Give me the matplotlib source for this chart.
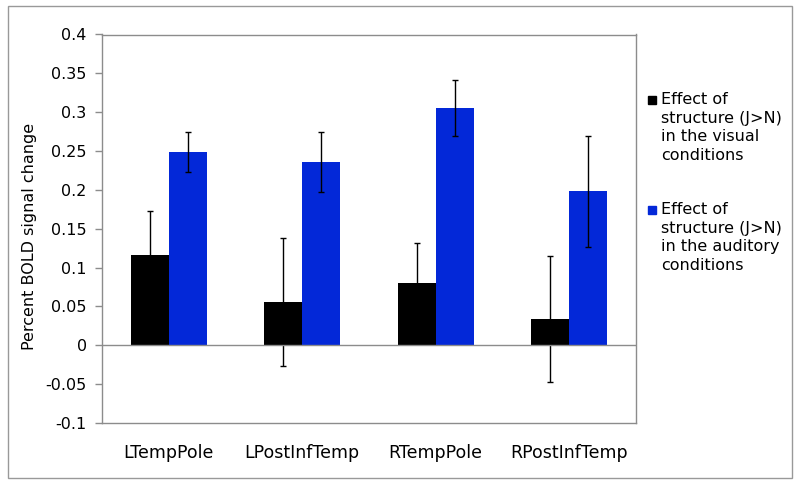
import matplotlib
matplotlib.use("Agg")
import matplotlib.pyplot as plt
import matplotlib.patches as mpatches
import numpy as np

regions = ["LTempPole", "LPostInfTemp", "RTempPole", "RPostInfTemp"]
visual = [0.116, 0.056, 0.080, 0.034]
visual_err = [0.057, 0.082, 0.052, 0.081]
auditory = [0.249, 0.236, 0.306, 0.198]
auditory_err = [0.026, 0.039, 0.036, 0.071]
legend_labels = ["Effect of\nstructure (J>N)\nin the visual\nconditions",
                 "Effect of\nstructure (J>N)\nin the auditory\nconditions"]

black = "#000000"
blue = "#0328D8"
gray = "#8c8c8c"

W, H = 800, 483
fig = plt.figure(figsize=(W / 100, H / 100), dpi=100)
ax = fig.add_axes([102 / W, 1 - 423 / H, (636 - 102) / W, (423 - 34.5) / H])

x = np.arange(len(regions))
bw = 0.284
ekw = dict(ecolor="#000000", elinewidth=1, capsize=2.5, capthick=1)
ax.bar(x - bw / 2, visual, bw, color=black, yerr=visual_err, error_kw=ekw, zorder=2)
ax.bar(x + bw / 2, auditory, bw, color=blue, yerr=auditory_err, error_kw=ekw, zorder=2)
ax.axhline(0, color=gray, lw=1, zorder=3)

ax.set_xlim(-0.5, len(regions) - 0.5)
ax.set_ylim(-0.1, 0.4)
ax.set_yticks(np.arange(-0.1, 0.401, 0.05))
ax.set_yticklabels(["-0.1", "-0.05", "0", "0.05", "0.1", "0.15", "0.2",
                    "0.25", "0.3", "0.35", "0.4"], fontsize=11.5)
ax.set_xticks(x)
ax.set_xticklabels(regions, fontsize=12.5)
ax.tick_params(axis="x", length=0, pad=15)
ax.tick_params(axis="y", length=5, color=gray, width=1, pad=6)
for s in ax.spines.values():
    s.set_color(gray)
    s.set_linewidth(1)
ax.set_ylabel("Percent BOLD signal change", fontsize=11.5)
ax.yaxis.set_label_coords(-0.122, 0.48)

# legend drawn by hand, outside the plot frame
colors = [black, blue]
tops = [92, 202]
for lab, c, t in zip(legend_labels, colors, tops):
    fig.add_artist(mpatches.Rectangle((648 / W, 1 - (t + 12) / H), 8 / W, 8 / H,
                                      transform=fig.transFigure, color=c))
    fig.text(661 / W, 1 - t / H, lab, fontsize=11.5, va="top", ha="left",
             linespacing=1.3)

# outer border
fig.add_artist(mpatches.Rectangle((8 / W, 1 - 478 / H), (792 - 8) / W, (478 - 6) / H,
                                  transform=fig.transFigure, fill=False,
                                  edgecolor="#999999", lw=1))

fig.savefig("out.png", dpi=100)
